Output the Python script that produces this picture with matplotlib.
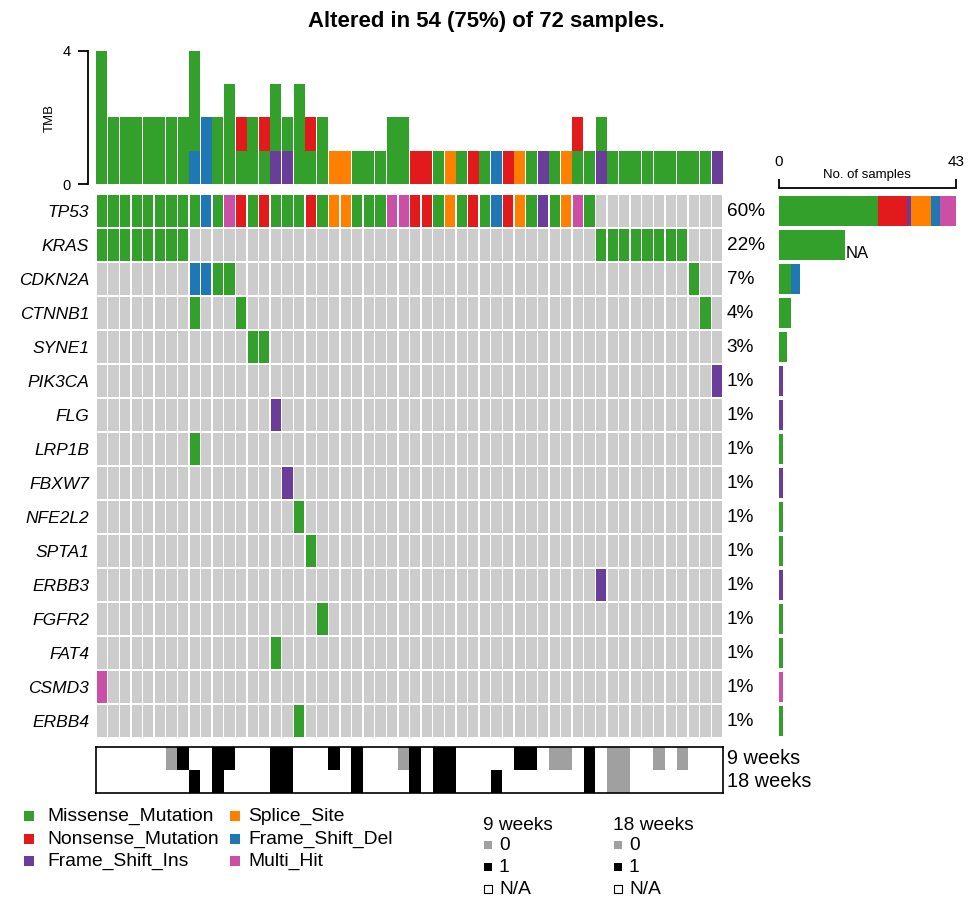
import numpy as np
import matplotlib
matplotlib.use("Agg")
import matplotlib.pyplot as plt
from matplotlib.colors import ListedColormap

plt.rcParams['font.family'] = ['Liberation Sans', 'DejaVu Sans']

W, H = 978, 899
n_samples = 72
n_cols = 54

genes = ["TP53", "KRAS", "CDKN2A", "CTNNB1", "SYNE1", "PIK3CA", "FLG", "LRP1B",
         "FBXW7", "NFE2L2", "SPTA1", "ERBB3", "FGFR2", "FAT4", "CSMD3", "ERBB4"]

# runs of calls per gene: (first column, codes)
# M missense, N nonsense, I fs ins, S splice, D fs del, H multi hit
gene_calls = [
    [(0, "MMMMMMMMMDMHNMNMMMNMSSMMMHHNNMSMNMDNSMIMSHM")],
    [(0, "MMMMMMMM"), (43, "MMMMMMMM")],
    [(8, "DDMM"), (51, "M")],
    [(8, "M"), (12, "M"), (52, "M")],
    [(13, "MM")],
    [(53, "I")],
    [(15, "I")],
    [(8, "M")],
    [(16, "I")],
    [(17, "M")],
    [(18, "M")],
    [(43, "I")],
    [(19, "M")],
    [(15, "M")],
    [(0, "H")],
    [(17, "M")],
]

class_codes = ["M", "N", "I", "S", "D", "H"]
class_names = ["Missense_Mutation", "Nonsense_Mutation", "Frame_Shift_Ins",
               "Splice_Site", "Frame_Shift_Del", "Multi_Hit"]
class_colors = ["#33A02C", "#E31A1C", "#6A3D9A", "#FF7F00", "#1F78B4", "#CC4FA6"]

# TMB per sample, split by class
tmb_mis = [4, 2, 2, 2, 2, 2, 2, 2, 3, 0, 2, 3, 1, 2, 1, 2, 1, 3, 1, 2,
           0, 0, 1, 1, 1, 2, 2, 0, 0, 1, 0, 1, 0, 1, 0, 0, 0, 1, 0, 1,
           0, 1, 1, 1, 1, 1, 1, 1, 1, 1, 1, 1, 1, 0]
tmb_non = [0, 0, 0, 0, 0, 0, 0, 0, 0, 0, 0, 0, 1, 0, 1, 0, 0, 0, 1, 0,
           0, 0, 0, 0, 0, 0, 0, 1, 1, 0, 0, 0, 1, 0, 0, 1, 0, 0, 0, 0,
           0, 1, 0, 0, 0, 0, 0, 0, 0, 0, 0, 0, 0, 0]
tmb_ins = [0, 0, 0, 0, 0, 0, 0, 0, 0, 0, 0, 0, 0, 0, 0, 1, 1, 0, 0, 0,
           0, 0, 0, 0, 0, 0, 0, 0, 0, 0, 0, 0, 0, 0, 0, 0, 0, 0, 1, 0,
           0, 0, 0, 1, 0, 0, 0, 0, 0, 0, 0, 0, 0, 1]
tmb_spl = [0, 0, 0, 0, 0, 0, 0, 0, 0, 0, 0, 0, 0, 0, 0, 0, 0, 0, 0, 0,
           1, 1, 0, 0, 0, 0, 0, 0, 0, 0, 1, 0, 0, 0, 0, 0, 1, 0, 0, 0,
           1, 0, 0, 0, 0, 0, 0, 0, 0, 0, 0, 0, 0, 0]
tmb_del = [0, 0, 0, 0, 0, 0, 0, 0, 1, 2, 0, 0, 0, 0, 0, 0, 0, 0, 0, 0,
           0, 0, 0, 0, 0, 0, 0, 0, 0, 0, 0, 0, 0, 0, 1, 0, 0, 0, 0, 0,
           0, 0, 0, 0, 0, 0, 0, 0, 0, 0, 0, 0, 0, 0]

# clinical annotation: 0, 1, N = N/A
wk9 = "NNNNNN01NN" "11NNN11NNN" "1N1NNN01N1" "1NNNNN11N0" "0N1N00NN0N" "0NNN"
wk18 = "NNNNNNNN1N" "1NNNN11NNN" "NN1NNNN1N1" "1NNN1NNNNN" "NN1N00NNNN" "NNNN"
ann_names = ["9 weeks", "18 weeks"]


def expand(runs):
    row = ["."] * n_cols
    for start, codes in runs:
        for k, ch in enumerate(codes):
            row[start + k] = ch
    return row


grid = [expand(r) for r in gene_calls]
col_of = dict(zip(class_codes, class_colors))
col_of["."] = "#CCCCCC"

fig = plt.figure(figsize=(W / 100, H / 100), dpi=100)


def px_axes(x0, y0, x1, y1):
    return fig.add_axes([x0 / W, 1 - y1 / H, (x1 - x0) / W, (y1 - y0) / H])


x = np.arange(n_cols)

# ---- TMB bars
ax_tmb = px_axes(96, 51, 723, 184)
bottom = np.zeros(n_cols)
for vals, code in [(tmb_del, "D"), (tmb_ins, "I"), (tmb_mis, "M"),
                   (tmb_spl, "S"), (tmb_non, "N")]:
    vals = np.array(vals)
    ax_tmb.bar(x, vals, bottom=bottom, width=0.95, color=col_of[code], linewidth=0)
    bottom += vals
ax_tmb.set_xlim(-0.5, n_cols - 0.5)
ax_tmb.set_ylim(0, 4)
for s in ["top", "right", "bottom"]:
    ax_tmb.spines[s].set_visible(False)
ax_tmb.spines["left"].set_position(("outward", 6))
ax_tmb.spines["left"].set_linewidth(1.3)
ax_tmb.set_xticks([])
ax_tmb.set_yticks([0, 4])
ax_tmb.tick_params(axis="y", length=7.5, width=1.3, labelsize=10.5, pad=5)
fig.text(50 / W, 1 - 118 / H, "TMB", rotation=90, ha="center", va="center", fontsize=9.5)

# ---- oncoprint grid
ax = px_axes(96, 194, 723, 738)
for r, row in enumerate(grid):
    ax.bar(x, 0.96, bottom=r - 0.48, width=0.88, color=[col_of[c] for c in row], linewidth=0)
ax.set_xlim(-0.5, n_cols - 0.5)
ax.set_ylim(len(genes) - 0.5, -0.5)
for s in ax.spines.values():
    s.set_visible(False)
ax.set_xticks([])
ax.set_yticks(range(len(genes)))
ax.set_yticklabels(genes, fontstyle="italic", fontsize=12.5)
ax.tick_params(axis="y", length=0, pad=5)
counts = [sum(c != "." for c in row) for row in grid]
for r, n in enumerate(counts):
    ax.text(1.006, r, f"{round(100 * n / n_samples)}%", transform=ax.get_yaxis_transform(),
            ha="left", va="center", fontsize=13.7)

# ---- right side bars
axb = px_axes(779, 194, 956, 738)
left = np.zeros(len(genes))
for code, color in zip(class_codes, class_colors):
    vals = np.array([row.count(code) for row in grid])
    axb.barh(np.arange(len(genes)), vals, left=left, height=0.9, color=color, linewidth=0)
    left += vals
axb.set_xlim(0, counts[0])
axb.set_ylim(len(genes) - 0.5, -0.5)
for s in ["bottom", "left", "right"]:
    axb.spines[s].set_visible(False)
axb.spines["top"].set_position(("outward", 4.5))
axb.spines["top"].set_linewidth(1.3)
axb.set_yticks([])
axb.xaxis.tick_top()
axb.set_xticks([0, counts[0]])
axb.tick_params(axis="x", length=6.5, width=1.3, labelsize=11, pad=7)
axb.text(counts[1] + 0.3, 1.25, "NA", ha="left", va="center", fontsize=12)
fig.text(867 / W, 1 - 175 / H, "No. of samples", ha="center", va="center", fontsize=9.5)

# ---- clinical annotation
ax_ann = px_axes(96, 747, 723, 793)
code_val = {"0": 0, "1": 1, "N": 2}
ann = np.array([[code_val[c] for c in wk9], [code_val[c] for c in wk18]])
ax_ann.imshow(ann, cmap=ListedColormap(["#A0A0A0", "black", "white"]), vmin=0, vmax=2,
              aspect="auto", interpolation="nearest", extent=(-0.5, n_cols - 0.5, 1.5, -0.5))
ax_ann.set_xticks([])
ax_ann.set_yticks([])
for s in ax_ann.spines.values():
    s.set_linewidth(1.2)
for r, name in enumerate(ann_names):
    ax_ann.text(1.006, r, name, transform=ax_ann.get_yaxis_transform(),
                ha="left", va="center", fontsize=14.3)

# ---- legends
fig.text(486 / W, 1 - 21 / H, "Altered in 54 (75%) of 72 samples.", ha="center", va="center",
         fontsize=15.9, fontweight="bold")
lg = fig.add_axes([0, 0, 1, 1])
lg.set_xlim(0, W)
lg.set_ylim(H, 0)
lg.axis("off")
rows_y = [816, 839, 861]
for i, (name, color) in enumerate(zip(class_names, class_colors)):
    cx, tx = (29, 47) if i < 3 else (235, 248)
    yy = rows_y[i % 3]
    lg.scatter([cx], [yy], marker="s", s=48, color=color, linewidths=0)
    lg.text(tx, yy, name, ha="left", va="center", fontsize=13.9)

ann_colors = ["#A0A0A0", "black", "white"]
ann_labels = ["0", "1", "N/A"]
for tx0, name in zip([483, 613], ann_names):
    lg.text(tx0, 826, name, ha="left", va="center", fontsize=13.8)
    for j, (lab, c) in enumerate(zip(ann_labels, ann_colors)):
        yy = 845 + 22 * j
        lg.scatter([tx0 + 5], [yy], marker="s", s=34, color=c, edgecolors="black",
                   linewidths=0.8 if c == "white" else 0)
        lg.text(tx0 + 16, yy, lab, ha="left", va="center", fontsize=13.8)

fig.savefig("out.png", dpi=100)
